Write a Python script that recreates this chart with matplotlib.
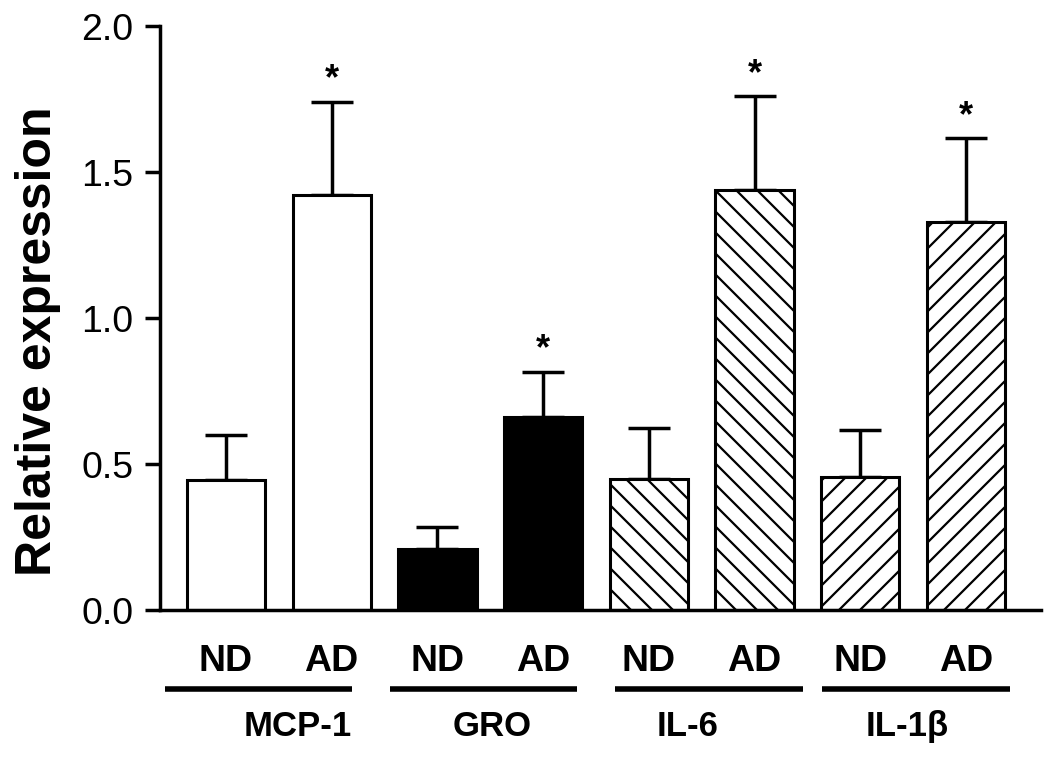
import numpy as np
import matplotlib
matplotlib.use("Agg")
from matplotlib import pyplot as plt
from matplotlib import transforms

# render at a higher dpi so the hatch spacing matches; point sizes scaled by S
DPI = 126
S = 100 / DPI

plt.rcParams['font.family'] = ['Liberation Sans', 'DejaVu Sans']
plt.rcParams['hatch.linewidth'] = 1.6 * S

# data
groups = ["MCP-1", "GRO", "IL-6", "IL-1β"]
conditions = ["ND", "AD"]
means = [0.445, 1.42, 0.21, 0.66, 0.45, 1.44, 0.455, 1.33]
errors = [0.155, 0.32, 0.075, 0.155, 0.175, 0.32, 0.16, 0.285]
significant = [False, True, False, True, False, True, False, True]

# styling per group
fills = ["white", "black", "white", "white"]
hatches = [None, None, "\\\\", "//"]

# layout (data units along x)
line_spans = [(-0.58, 1.19), (1.55, 3.32), (3.68, 5.46), (5.64, 7.42)]
name_x = [0.68, 2.52, 4.37, 6.44]

fig = plt.figure(figsize=(1050 / DPI, 761 / DPI), dpi=DPI)
ax = fig.add_axes([0.1524, 0.1984, 0.839, 0.7674])

x = np.arange(len(means))
for i, (m, e) in enumerate(zip(means, errors)):
    g = i // 2
    ax.bar(x[i], m, width=0.74, color=fills[g], edgecolor="black",
           linewidth=2.2 * S, hatch=hatches[g], zorder=2)
    ax.errorbar(x[i], m, yerr=[[0], [e]], fmt="none", ecolor="black",
                elinewidth=2.5 * S, capsize=15 * S, capthick=2.5 * S, zorder=1)
    if significant[i]:
        ax.text(x[i], m + e + 0.075, "*", ha="center", va="center",
                fontsize=26 * S, fontweight="bold")

ax.set_xlim(-0.624, 7.71)
ax.set_ylim(0, 2.0)
ax.set_yticks([0.0, 0.5, 1.0, 1.5, 2.0])
ax.set_yticklabels(["0.0", "0.5", "1.0", "1.5", "2.0"])
ax.set_xticks([])
ax.spines["top"].set_visible(False)
ax.spines["right"].set_visible(False)
ax.spines["left"].set_linewidth(2.5 * S)
ax.spines["bottom"].set_linewidth(2.5 * S)
ax.tick_params(axis="y", length=11 * S, width=2.5 * S, labelsize=27 * S, pad=8 * S)
ax.set_ylabel("Relative expression", fontsize=36 * S, fontweight="bold")
ax.yaxis.set_label_coords(-0.112, 0.46)

trans = transforms.blended_transform_factory(ax.transData, ax.transAxes)
for i in x:
    ax.text(i, -0.089, conditions[i % 2], transform=trans, ha="center",
            va="center", fontsize=27 * S, fontweight="bold")
for (a, b), nx, name in zip(line_spans, name_x, groups):
    ax.plot([a, b], [-0.135, -0.135], transform=trans, color="black",
            linewidth=4 * S, clip_on=False, solid_capstyle="butt")
    ax.text(nx, -0.200, name, transform=trans, ha="center", va="center",
            fontsize=25 * S, fontweight="bold")

fig.savefig("out.png", dpi=DPI)
